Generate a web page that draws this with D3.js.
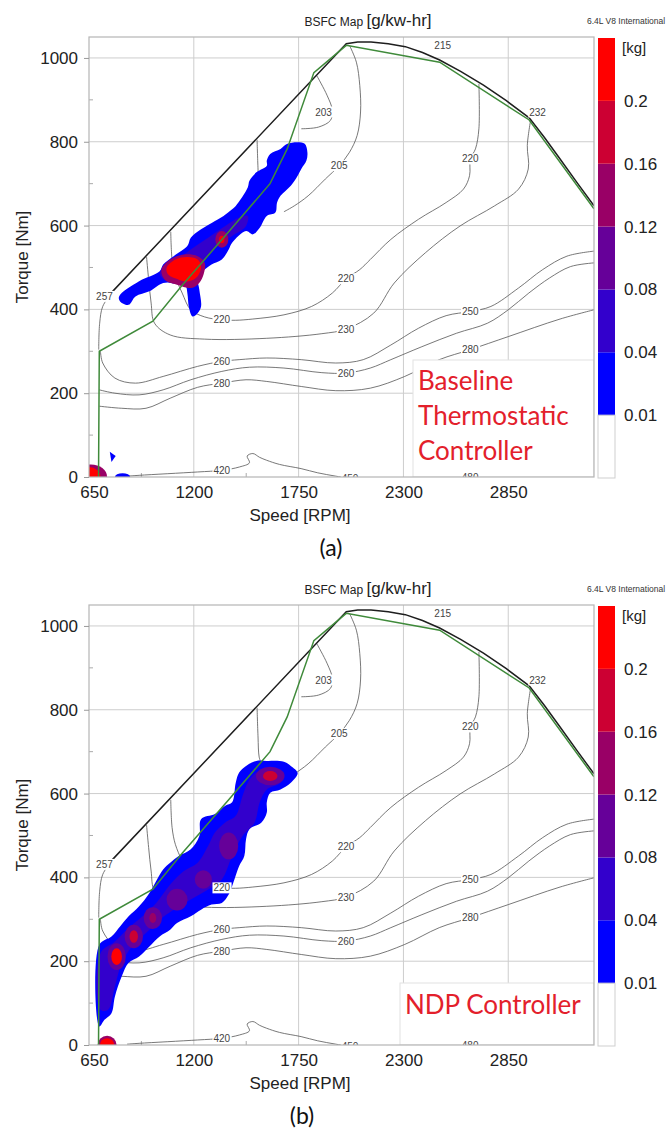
<!DOCTYPE html>
<html><head><meta charset="utf-8">
<script src="https://cdn.jsdelivr.net/npm/d3@7"></script>
<style>body{margin:0;background:#fff}svg{display:block}</style>
</head><body>
<svg id="c" width="671" height="1140"></svg>
<script>
// ---------- axis / legend data ----------
const xTicks = [650, 1200, 1750, 2300, 2850];
const xMinor = [925, 1475, 2025, 2575, 3125];
const yTicks = [0, 200, 400, 600, 800, 1000];
const yMinor = [100, 300, 500, 700, 900];
const cbThresholds = [0.01, 0.04, 0.08, 0.12, 0.16, 0.2];
const cbColors = ['#ffffff', '#0000ff', '#3300cc', '#660099', '#990066', '#cc0033', '#ff0000'];

// ---------- engine map (rpm, torque Nm) ----------
const maxTorque = [[768,440],[2000,1034],[2060,1038],[2130,1038],[2220,1034],[2310,1027],[2400,1013],[2490,995],[2600,968],[2720,935],[2840,898],[2960,857],[3040,810],[3120,760],[3210,703],[3300,647]];
const greenLine = [[700,0],[704,300],[985,372],[1140,458],[1383,585],[1600,700],[1690,783],[1830,965],[2000,1030],[2490,990],[2960,852],[3300,640]];

const c203 = [[1845,958],[1899,911],[1927,875],[1917,851],[1854,835],[1764,831]];
const c205 = [[2017,1030],[2053,990],[2071,934],[2075,871],[2057,815],[2017,775],[1963,743],[1890,711],[1800,671],[1727,647],[1673,633]];
const c210 = [[1532,805],[1537,735],[1543,687],[1555,671]];
const c220 = [[2696,938],[2696,831],[2678,783],[2651,759],[2647,719],[2615,687],[2524,655],[2379,615],[2234,567],[2126,519],[2071,495],[1999,473],[1927,439],[1818,407],[1673,387],[1510,377],[1420,374],[1347,375],[1257,382],[1184,399],[1139,439],[1103,479],[1086,519],[1079,585]];
const c230 = [[2968,853],[2950,791],[2955,735],[2904,687],[2778,647],[2597,599],[2415,535],[2252,463],[2144,391],[1999,353],[1872,342],[1583,331],[1257,329],[1076,339],[994,367],[976,415],[963,471],[952,525]];
const c257 = [[768,439],[722,407],[706,367],[701,304]];
const c250 = [[3300,539],[3158,527],[3031,495],[2904,451],[2759,407],[2651,395],[2524,385],[2379,355],[2234,315],[2089,280],[1945,272],[1764,280],[1583,284],[1438,280],[1347,276],[1220,264],[1039,240],[894,224],[786,236],[722,272],[710,300]];
const c260 = [[3300,511],[3176,502],[3067,475],[2958,439],[2850,399],[2741,367],[2578,343],[2397,311],[2234,280],[2126,260],[1999,248],[1872,249],[1673,260],[1492,262],[1347,252],[1184,232],[1039,208],[913,196],[786,200],[704,208]];
const c280 = [[3300,399],[3122,377],[2850,335],[2651,304],[2488,280],[2307,240],[2126,212],[1945,206],[1764,216],[1583,228],[1474,232],[1347,224],[1220,214],[1076,188],[949,164],[822,164],[704,169]];
const c420 = [[850,2],[913,4],[1220,12],[1347,16],[1440,24],[1492,34],[1480,50],[1510,56],[1545,47],[1582,40],[1650,30],[1763,20],[1850,10],[1945,2],[2050,-6]];
const c450 = [[2560,-4],[2650,4],[2720,6],[2800,2]];
const contourLines = [c203, c205, c210, c220, c230, c257, c250, c260, c280, c420, c450];

const labelText   = ['203','205','215','232','220','220','220','230','250','260','260','280','280','257','420','450','480'];
const labelRpm    = [1881, 1963, 2506, 3004, 2651, 1999, 1347, 1999, 2651, 1347, 1999, 1347, 2651, 731, 1347, 2020, 2650];
const labelTorque = [871, 743, 1030, 871, 759, 473, 375, 353, 395, 276, 248, 224, 304, 431, 16, -3, -2];

// ---------- fuel-use distribution, panel (a): Baseline ----------
const blobA_01 = [[808,431],[913,467],[1021,491],[1039,507],[1094,527],[1166,551],[1184,571],[1238,591],[1311,611],[1356,623],[1401,639],[1420,647],[1483,691],[1492,707],[1528,727],[1583,743],[1583,755],[1601,771],[1655,783],[1691,795],[1745,799],[1782,795],[1796,775],[1791,755],[1764,735],[1745,719],[1709,695],[1655,671],[1637,655],[1628,631],[1583,623],[1546,595],[1510,579],[1474,587],[1401,559],[1383,543],[1347,519],[1293,507],[1257,495],[1220,479],[1229,447],[1238,407],[1220,391],[1193,383],[1175,403],[1166,439],[1157,455],[1094,463],[1039,463],[967,443],[894,431],[858,411],[813,419]];
const blobA_04 = [[1021,487],[1094,511],[1184,543],[1275,571],[1365,599],[1438,619],[1483,623],[1474,599],[1401,575],[1329,551],[1275,527],[1220,495],[1202,463],[1148,459],[1057,467]];
const blobA_12 = [[1030,495],[1076,519],[1148,531],[1220,527],[1257,511],[1248,479],[1220,459],[1184,451],[1112,459],[1048,471]];
const blobA_20 = [[1057,499],[1103,519],[1166,525],[1220,519],[1238,503],[1220,479],[1175,467],[1121,471],[1066,483]];
const blobA_tri = [[759,60],[790,50],[768,36]];
// spots: [rpm, torque, half-width rpm, half-height Nm, kg]
const spotsA = [[1347,567,34,20,0.13],[1347,567,14,9,0.25],[826,0,40,9,0.02],[660,0,85,30,0.14],[650,0,60,24,0.25]];

// ---------- panel (b): NDP ----------
const blobB_01 = [[704,44],[704,239],[768,259],[813,283],[858,307],[913,331],[967,363],[1039,419],[1076,435],[1121,451],[1184,467],[1229,499],[1238,539],[1311,551],[1365,571],[1401,579],[1420,626],[1438,650],[1474,666],[1528,678],[1583,678],[1673,676],[1709,666],[1745,649],[1709,626],[1655,610],[1601,602],[1583,579],[1583,555],[1555,531],[1492,515],[1474,491],[1465,451],[1438,427],[1401,379],[1383,359],[1347,339],[1293,335],[1238,323],[1184,307],[1112,291],[1076,275],[1021,259],[967,235],[913,211],[858,196],[822,164],[786,116],[768,76],[731,60]];
const blobB_04 = [[710,84],[710,219],[786,247],[858,279],[931,307],[1003,339],[1076,383],[1148,415],[1220,435],[1275,475],[1311,507],[1365,531],[1420,547],[1456,595],[1483,626],[1528,650],[1601,658],[1673,650],[1655,626],[1583,610],[1546,579],[1519,531],[1456,499],[1401,451],[1347,395],[1275,371],[1184,347],[1094,323],[1021,299],[949,267],[876,235],[822,196],[786,140],[750,84]];
const spotsB = [[795,211,48,32,0.1],[885,259,48,28,0.1],[985,303,48,26,0.1],[1112,347,55,26,0.1],[1250,395,45,22,0.1],[1383,475,50,32,0.1],[1601,642,75,22,0.1],
                [795,211,28,20,0.25],[885,259,22,15,0.18],[985,303,18,12,0.14],[1601,642,38,12,0.18],[745,0,50,22,0.14],[745,0,38,16,0.25]];

// ---------- drawing ----------
const svg = d3.select('#c');
svg.append('rect').attr('width',671).attr('height',1140).attr('fill','#fff');
const color = d3.scaleThreshold().domain(cbThresholds).range(cbColors);
const FONT = 'Liberation Sans, Arial, sans-serif';

function panel(off, blobs, spots, tri, caption, boxText, box, capX) {
  const x = d3.scaleLinear([650, 3300], [89, 594]);
  const y = d3.scaleLinear([0, 1050], [477 + off, 37 + off]);
  const g = svg.append('g');
  const cid = 'clip' + off;
  g.append('clipPath').attr('id', cid).append('rect')
    .attr('x', 89).attr('y', 37 + off).attr('width', 505).attr('height', 440);

  // title
  const t = g.append('text').attr('x', 368).attr('y', 26 + off).attr('text-anchor', 'middle')
    .attr('font-family', FONT).attr('fill', '#222');
  t.append('tspan').attr('font-size', 12).text('BSFC Map ');
  t.append('tspan').attr('font-size', 17).text('[g/kw-hr]');
  g.append('text').attr('x', 587).attr('y', 24 + off).attr('font-family', FONT)
    .attr('font-size', 8.5).attr('fill', '#333').text('6.4L V8 International');

  // grid
  g.append('g').selectAll('line').data(xTicks.slice(1)).join('line')
    .attr('x1', d => x(d)).attr('x2', d => x(d)).attr('y1', y(1050)).attr('y2', y(0))
    .attr('stroke', '#cdcdcd').attr('stroke-width', 1);
  g.append('g').selectAll('line').data(yTicks.slice(1)).join('line')
    .attr('x1', x(650)).attr('x2', x(3300)).attr('y1', d => y(d)).attr('y2', d => y(d))
    .attr('stroke', '#cdcdcd').attr('stroke-width', 1);
  // minor ticks
  g.append('g').selectAll('line').data(xMinor).join('line')
    .attr('x1', d => x(d)).attr('x2', d => x(d)).attr('y1', y(0)).attr('y2', y(0) - 4)
    .attr('stroke', '#aaa');
  g.append('g').selectAll('line').data(yMinor).join('line')
    .attr('x1', x(650)).attr('x2', x(650) + 4).attr('y1', d => y(d)).attr('y2', d => y(d))
    .attr('stroke', '#aaa');

  const plot = g.append('g').attr('clip-path', `url(#${cid})`);
  const line = d3.line().x(d => x(d[0])).y(d => y(d[1])).curve(d3.curveCatmullRom.alpha(0.5));
  const area = d3.line().x(d => x(d[0])).y(d => y(d[1])).curve(d3.curveCatmullRomClosed.alpha(0.5));

  // contour lines
  plot.append('g').selectAll('path').data(contourLines).join('path')
    .attr('d', line).attr('fill', 'none').attr('stroke', '#555').attr('stroke-width', 0.8);

  // annotation box
  plot.append('rect').attr('x', box[0]).attr('y', box[1] + off).attr('width', box[2]).attr('height', box[3])
    .attr('fill', '#fff').attr('stroke', '#e2e2e2');

  // fuel blobs
  plot.append('g').selectAll('path').data(blobs).join('path')
    .attr('d', d => area(d.pts)).attr('fill', d => color(d.v)).attr('stroke', 'none');
  if (tri) plot.append('path').attr('d', d3.line().x(d => x(d[0])).y(d => y(d[1]))(tri) + 'Z').attr('fill', color(0.02));
  plot.append('g').selectAll('ellipse').data(spots).join('ellipse')
    .attr('cx', d => x(d[0])).attr('cy', d => y(d[1]))
    .attr('rx', d => x(d[0] + d[2]) - x(d[0])).attr('ry', d => y(d[1]) - y(d[1] + d[3]))
    .attr('fill', d => color(d[4]));

  // envelope lines
  plot.append('path').attr('d', d3.line().x(d => x(d[0])).y(d => y(d[1]))(maxTorque))
    .attr('fill', 'none').attr('stroke', '#1e1e1e').attr('stroke-width', 1.5);
  plot.append('path').attr('d', d3.line().x(d => x(d[0])).y(d => y(d[1]))(greenLine))
    .attr('fill', 'none').attr('stroke', '#3f8a3a').attr('stroke-width', 1.5);

  // contour labels
  const lab = plot.append('g').selectAll('g').data(labelText).join('g')
    .attr('transform', (d, i) => `translate(${x(labelRpm[i])},${y(labelTorque[i])})`);
  lab.each(function (d, i) {
    const s = d3.select(this);
    const tx = s.append('text').attr('text-anchor', 'middle').attr('dy', '0.35em')
      .attr('font-family', FONT).attr('font-size', 10).attr('fill', '#444').text(d);
    const bb = tx.node().getBBox();
    s.insert('rect', 'text').attr('x', bb.x - 1).attr('y', bb.y).attr('width', bb.width + 2).attr('height', bb.height)
      .attr('fill', '#fff');
  });

  // frame
  g.append('rect').attr('x', 89).attr('y', 37 + off).attr('width', 505).attr('height', 440)
    .attr('fill', 'none').attr('stroke', '#b5b5b5').attr('stroke-width', 1.2);

  // axes
  const ax = g.append('g').attr('transform', `translate(0,${y(0)})`)
    .call(d3.axisBottom(x).tickValues(xTicks).tickSize(0).tickPadding(9).tickFormat(d3.format('d')));
  const ay = g.append('g').attr('transform', `translate(${x(650)},0)`)
    .call(d3.axisLeft(y).tickValues(yTicks).tickSize(5).tickPadding(6).tickFormat(d3.format('d')));
  [ax, ay].forEach(a => {
    a.select('.domain').remove();
    a.selectAll('line').attr('stroke', '#999');
    a.selectAll('text').attr('font-family', FONT).attr('font-size', 17).attr('fill', '#222');
  });
  ax.select('.tick text').attr('dx', 5);

  g.append('text').attr('transform', `translate(22,${257 + off}) rotate(-90)`).attr('text-anchor', 'middle')
    .attr('dy', '0.35em').attr('font-family', FONT).attr('font-size', 17).attr('fill', '#222').text('Torque [Nm]');
  g.append('text').attr('x', 300).attr('y', 521 + off).attr('text-anchor', 'middle')
    .attr('font-family', FONT).attr('font-size', 17).attr('fill', '#222').text('Speed [RPM]');
  g.append('text').attr('x', capX).attr('y', 556 + off).attr('text-anchor', 'middle')
    .attr('font-family', 'Lato, sans-serif').attr('font-size', 23).attr('fill', '#111').text(caption);

  // annotation text
  g.append('g').selectAll('text').data(boxText).join('text')
    .attr('x', box[0] + 5).attr('y', (d, i) => box[4] + off + i * 35)
    .attr('font-family', 'Lato, sans-serif').attr('font-size', 26).attr('fill', '#e3202b').text(d => d);

  // colourbar
  const cb = d3.scaleLinear([0, 7], [478 + off, 38 + off]);
  const cg = g.append('g');
  cg.selectAll('rect').data(cbColors).join('rect')
    .attr('x', 598).attr('width', 17).attr('y', (d, i) => cb(i + 1)).attr('height', (d, i) => cb(i) - cb(i + 1))
    .attr('fill', d => d);
  cg.append('rect').attr('x', 598).attr('width', 17).attr('y', cb(1)).attr('height', cb(0) - cb(1))
    .attr('fill', 'none').attr('stroke', '#cfcfcf');
  cg.selectAll('text.tl').data(cbThresholds).join('text').attr('class', 'tl')
    .attr('x', 624).attr('y', (d, i) => cb(i + 1)).attr('dy', '0.35em')
    .attr('font-family', FONT).attr('font-size', 17).attr('fill', '#222').text(d => d);
  cg.append('text').attr('x', 622).attr('y', cb(6.85)).attr('dy', '0.35em')
    .attr('font-family', FONT).attr('font-size', 15).attr('fill', '#222').text('[kg]');
}

panel(0,
  [{pts: blobA_01, v: 0.02}, {pts: blobA_04, v: 0.05}, {pts: blobA_12, v: 0.13}, {pts: blobA_20, v: 0.25}],
  spotsA, blobA_tri, '(a)', ['Baseline', 'Thermostatic', 'Controller'], [413, 360, 181, 117, 390], 331);
panel(568,
  [{pts: blobB_01, v: 0.02}, {pts: blobB_04, v: 0.05}],
  spotsB, null, '(b)', ['NDP Controller'], [400, 415, 194, 62, 446], 302);
</script>
</body></html>
